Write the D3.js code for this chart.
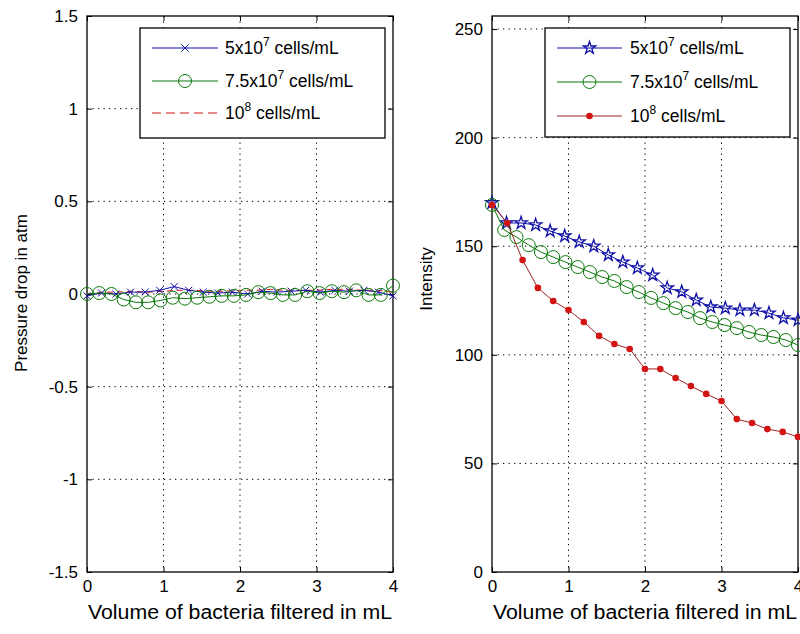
<!DOCTYPE html>
<html>
<head>
<meta charset="utf-8">
<script src="https://cdn.jsdelivr.net/npm/d3@7"></script>
<style>
  body { margin: 0; background: #fff; }
  svg { display: block; }
  .tick text { font-family: "Liberation Sans", Arial, sans-serif; font-size: 17px; fill: #000; }
  .lab { font-family: "Liberation Sans", Arial, sans-serif; font-size: 20px; fill: #000; }
  .ylab { font-family: "Liberation Sans", Arial, sans-serif; font-size: 17px; fill: #000; }
  .leg { font-family: "Liberation Sans", Arial, sans-serif; font-size: 17.5px; fill: #000; }
</style>
</head>
<body>
<script>
// CONFIG VARS
// =============================================================================

const width = 800;
const height = 634;
const plotTop = 16, plotBottom = 572;
const leftPanel = { x0: 87, x1: 393 };
const rightPanel = { x0: 492, x1: 798 };

// DATA
// =============================================================================

const xTicks = [0, 1, 2, 3, 4];
const pressureTicks = [-1.5, -1, -0.5, 0, 0.5, 1, 1.5];
const intensityTicks = [0, 50, 100, 150, 200, 250];

const legendLabels = [
  ["5x10", "7", " cells/mL"],
  ["7.5x10", "7", " cells/mL"],
  ["10", "8", " cells/mL"]
];

// sample volumes (mL) for each series
const volBlue = [0, 0.19, 0.38, 0.57, 0.76, 0.95, 1.14, 1.33, 1.52, 1.71, 1.90,
                 2.10, 2.29, 2.48, 2.67, 2.86, 3.05, 3.24, 3.43, 3.62, 3.81, 4.0];
const volGreen = [0, 0.16, 0.32, 0.48, 0.64, 0.80, 0.96, 1.12, 1.28, 1.44, 1.60, 1.76, 1.92,
                  2.08, 2.24, 2.40, 2.56, 2.72, 2.88, 3.04, 3.20, 3.36, 3.52, 3.68, 3.84, 4.0];
const volRed = [0, 0.2, 0.4, 0.6, 0.8, 1.0, 1.2, 1.4, 1.6, 1.8, 2.0,
                2.2, 2.4, 2.6, 2.8, 3.0, 3.2, 3.4, 3.6, 3.8, 4.0];

// pressure drop (atm)
const pressBlue = [-0.01, 0.005, 0.0, 0.01, 0.01, 0.02, 0.04, 0.02, 0.01, 0.005, 0.01,
                   0.0, 0.015, 0.01, 0.015, 0.02, 0.01, 0.02, 0.015, 0.02, 0.01, -0.01];
const pressGreen = [0.0, 0.005, 0.0, -0.03, -0.045, -0.045, -0.035, -0.02, -0.025, -0.02, -0.015, -0.01, -0.01,
                    -0.005, 0.01, 0.005, -0.005, -0.005, 0.015, 0.005, 0.015, 0.01, 0.02, -0.005, -0.005, 0.045];
const pressRed = [0.0, 0.01, 0.01, 0.015, 0.01, 0.015, 0.02, 0.02, 0.015, 0.015, 0.02,
                  0.02, 0.025, 0.02, 0.02, 0.02, 0.025, 0.025, 0.02, 0.02, 0.01];

// intensity
const intBlue = [170, 160.7, 160.7, 159.8, 157, 154.7, 152, 150, 146, 142.7, 140,
                 136.7, 130.8, 129, 125.2, 122, 121.5, 120.6, 120.6, 119.2, 117, 116];
const intGreen = [169, 157.5, 154.2, 150.5, 147.3, 145, 142.7, 140.4, 138.1, 135.8, 134, 131.2, 128.9,
                  126.2, 123.8, 121.5, 119.7, 116.9, 115.1, 113.7, 112.3, 110.5, 109.1, 108.2, 106.8, 104.5];
const intRed = [169, 160.7, 143.6, 130.8, 124.8, 120.6, 115.1, 108.7, 105, 102.7, 93.5,
                93.5, 89.3, 85.6, 82, 78.7, 70.4, 68.6, 65.8, 64.5, 62.2];

const blue = "#1010a8", green = "#0a780a", red = "#d21414";

// INITIALIZE THE SVG
// =============================================================================

const svg = d3.select("body").append("svg")
  .attr("width", width)
  .attr("height", height);

function zip(xs, ys) { return xs.map((x, i) => [x, ys[i]]); }

function drawPanel(p, yDomain, yTicks, ylabel, ylabelY) {
  const x = d3.scaleLinear().domain([0, 4]).range([p.x0, p.x1]);
  const y = d3.scaleLinear().domain(yDomain).range([plotBottom, plotTop]);
  const g = svg.append("g");

  // dotted grid
  g.append("g")
    .selectAll("line").data(xTicks.slice(1, -1)).join("line")
    .attr("x1", d => x(d)).attr("x2", d => x(d))
    .attr("y1", plotTop).attr("y2", plotBottom)
    .attr("stroke", "#000").attr("stroke-dasharray", "1.3,4.2");
  g.append("g")
    .selectAll("line").data(yTicks.filter(t => y(t) > plotTop + 1 && y(t) < plotBottom - 1)).join("line")
    .attr("x1", p.x0).attr("x2", p.x1)
    .attr("y1", d => y(d)).attr("y2", d => y(d))
    .attr("stroke", "#000").attr("stroke-dasharray", "1.3,4.2");

  // axes (ticks pointing inward, on all four sides)
  g.append("g").attr("transform", `translate(0,${plotBottom})`)
    .call(d3.axisBottom(x).tickValues(xTicks).tickSize(-5).tickPadding(8).tickFormat(d => String(d)));
  g.append("g").attr("transform", `translate(0,${plotTop})`)
    .call(d3.axisTop(x).tickValues(xTicks).tickSize(-5).tickFormat(""));
  g.append("g").attr("transform", `translate(${p.x0},0)`)
    .call(d3.axisLeft(y).tickValues(yTicks).tickSize(-5).tickPadding(9).tickFormat(d => String(d)));
  g.append("g").attr("transform", `translate(${p.x1},0)`)
    .call(d3.axisRight(y).tickValues(yTicks).tickSize(-5).tickFormat(""));
  g.selectAll(".domain").remove();
  g.selectAll(".tick line").attr("stroke", "#000");

  g.append("rect")
    .attr("x", p.x0).attr("y", plotTop)
    .attr("width", p.x1 - p.x0).attr("height", plotBottom - plotTop)
    .attr("fill", "none").attr("stroke", "#000").attr("stroke-width", 1.3);

  g.append("text").attr("class", "lab")
    .attr("x", (p.x0 + p.x1) / 2).attr("y", 619)
    .attr("text-anchor", "middle")
    .attr("textLength", 304).attr("lengthAdjust", "spacingAndGlyphs")
    .text("Volume of bacteria filtered in mL");

  g.append("text").attr("class", "ylab")
    .attr("transform", `translate(${p.x0 - 60},${ylabelY}) rotate(-90)`)
    .attr("text-anchor", "middle")
    .text(ylabel);

  return { x, y, g };
}

function line(x, y) {
  return d3.line().x(d => x(d[0])).y(d => y(d[1]));
}

// LEFT PANEL: pressure drop
// =============================================================================

const L = drawPanel(leftPanel, [-1.5, 1.5], pressureTicks, "Pressure drop in atm", 293);
const lLine = line(L.x, L.y);

L.g.append("path").datum(zip(volRed, pressRed))
  .attr("d", lLine).attr("fill", "none").attr("stroke", red).attr("stroke-dasharray", "6,4");

L.g.append("path").datum(zip(volBlue, pressBlue))
  .attr("d", lLine).attr("fill", "none").attr("stroke", blue);
L.g.selectAll("path.bx").data(zip(volBlue, pressBlue)).join("path")
  .attr("class", "bx")
  .attr("transform", d => `translate(${L.x(d[0])},${L.y(d[1])})`)
  .attr("d", d3.symbol(d3.symbolTimes, 34))
  .attr("fill", "none").attr("stroke", blue);

L.g.append("path").datum(zip(volGreen, pressGreen))
  .attr("d", lLine).attr("fill", "none").attr("stroke", green);
L.g.selectAll("circle.gc").data(zip(volGreen, pressGreen)).join("circle")
  .attr("class", "gc")
  .attr("cx", d => L.x(d[0])).attr("cy", d => L.y(d[1])).attr("r", 6.5)
  .attr("fill", "none").attr("stroke", green);

// RIGHT PANEL: intensity
// =============================================================================

const R = drawPanel(rightPanel, [0, 256], intensityTicks, "Intensity", 279);
const rLine = line(R.x, R.y);

R.g.append("path").datum(zip(volBlue, intBlue))
  .attr("d", rLine).attr("fill", "none").attr("stroke", blue);
R.g.selectAll("path.bs").data(zip(volBlue, intBlue)).join("path")
  .attr("class", "bs")
  .attr("transform", d => `translate(${R.x(d[0])},${R.y(d[1])})`)
  .attr("d", d3.symbol(d3.symbolStar, 48))
  .attr("fill", "none").attr("stroke", blue).attr("stroke-width", 1.3);

R.g.append("path").datum(zip(volGreen, intGreen))
  .attr("d", rLine).attr("fill", "none").attr("stroke", green);
R.g.selectAll("circle.gc").data(zip(volGreen, intGreen)).join("circle")
  .attr("class", "gc")
  .attr("cx", d => R.x(d[0])).attr("cy", d => R.y(d[1])).attr("r", 6.5)
  .attr("fill", "none").attr("stroke", green);

R.g.append("path").datum(zip(volRed, intRed))
  .attr("d", rLine).attr("fill", "none").attr("stroke", "#9a2222");
R.g.selectAll("circle.rd").data(zip(volRed, intRed)).join("circle")
  .attr("class", "rd")
  .attr("cx", d => R.x(d[0])).attr("cy", d => R.y(d[1])).attr("r", 3.3)
  .attr("fill", red);

// LEGENDS
// =============================================================================

function legend(box, rows, sx0, sx1, tx) {
  const g = svg.append("g");
  g.append("rect")
    .attr("x", box.x).attr("y", box.y).attr("width", box.w).attr("height", box.h)
    .attr("fill", "#fff").attr("stroke", "#000").attr("stroke-width", 1.3);
  rows.forEach((r, i) => {
    const ry = box.rows[i];
    const mx = (sx0 + sx1) / 2;
    g.append("line").attr("x1", sx0).attr("x2", sx1).attr("y1", ry).attr("y2", ry)
      .attr("stroke", r.color).attr("stroke-dasharray", r.dash || null);
    r.marker(g, mx, ry);
    const t = g.append("text").attr("class", "leg").attr("x", tx).attr("y", ry + 6);
    const lbl = legendLabels[i];
    t.append("tspan").text(lbl[0]);
    t.append("tspan").attr("dy", -8).attr("font-size", "12px").text(lbl[1]);
    t.append("tspan").attr("dy", 8).text(lbl[2]);
  });
}

legend({ x: 140, y: 28, w: 245, h: 110, rows: [48, 81, 113] }, [
  { color: blue, marker: (g, x, y) => g.append("path").attr("transform", `translate(${x},${y})`)
      .attr("d", d3.symbol(d3.symbolTimes, 34)).attr("fill", "none").attr("stroke", blue) },
  { color: green, marker: (g, x, y) => g.append("circle").attr("cx", x).attr("cy", y).attr("r", 6.5)
      .attr("fill", "none").attr("stroke", green) },
  { color: red, dash: "9,5", marker: () => {} }
], 152, 218, 225);

legend({ x: 545, y: 28, w: 245, h: 109, rows: [48, 82, 116] }, [
  { color: blue, marker: (g, x, y) => g.append("path").attr("transform", `translate(${x},${y})`)
      .attr("d", d3.symbol(d3.symbolStar, 48)).attr("fill", "none").attr("stroke", blue).attr("stroke-width", 1.3) },
  { color: green, marker: (g, x, y) => g.append("circle").attr("cx", x).attr("cy", y).attr("r", 6.5)
      .attr("fill", "none").attr("stroke", green) },
  { color: "#9a2222", marker: (g, x, y) => g.append("circle").attr("cx", x).attr("cy", y).attr("r", 3.3)
      .attr("fill", red) }
], 557, 622, 630);
</script>
</body>
</html>
